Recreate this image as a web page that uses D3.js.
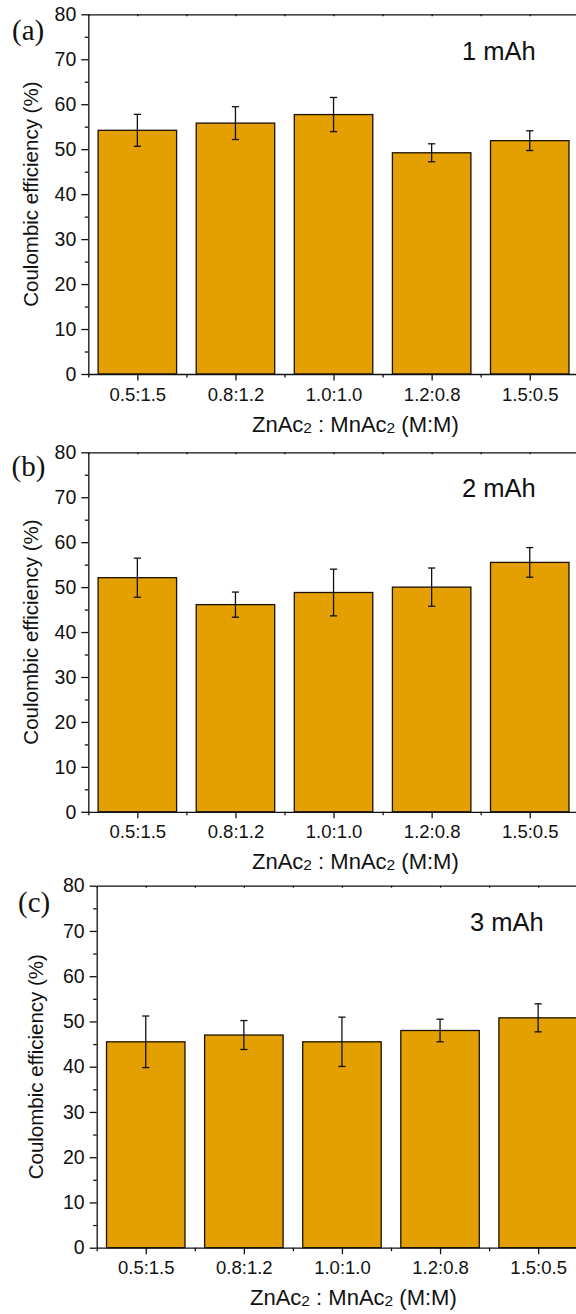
<!DOCTYPE html>
<html>
<head>
<meta charset="utf-8">
<script src="https://cdn.jsdelivr.net/npm/d3@7/dist/d3.min.js"></script>
<style>
  html, body { margin: 0; padding: 0; background: #fff; }
  svg { display: block; }
</style>
</head>
<body>
<svg id="chart" width="576" height="1314"></svg>
<script>
// Zn:Mn acetate ratios tested
const categories = ["0.5:1.5", "0.8:1.2", "1.0:1.0", "1.2:0.8", "1.5:0.5"];

// Coulombic efficiency (%) and error (±) per capacity
const ce1mAh  = [54.2, 55.8, 57.7, 49.2, 51.9];
const err1mAh = [3.55, 3.65, 3.8, 2.0, 2.2];
const ce2mAh  = [52.1, 46.1, 48.8, 50.0, 55.5];
const err2mAh = [4.35, 2.8, 5.2, 4.25, 3.3];
const ce3mAh  = [45.5, 47.0, 45.5, 48.0, 50.8];
const err3mAh = [5.7, 3.2, 5.45, 2.5, 3.1];

const capacityLabels = ["1 mAh", "2 mAh", "3 mAh"];
const panelTags = ["(a)", "(b)", "(c)"];
const yMajorTicks = [0, 10, 20, 30, 40, 50, 60, 70, 80];
const yMinorTicks = [5, 15, 25, 35, 45, 55, 65, 75];

const series = [
  { values: ce1mAh, errors: err1mAh },
  { values: ce2mAh, errors: err2mAh },
  { values: ce3mAh, errors: err3mAh }
];

// Panel frames (plot-area geometry)
const frames = [
  { left: 88.3, top: 14.3, bottom: 374.0, tagX: 12, tagY: 30, capX: 462, capY: 59.5, titleX: 38, xTitleX: 252 },
  { left: 88.3, top: 452.3, bottom: 811.8, tagX: 11.5, tagY: 466, capX: 462, capY: 497, titleX: 38, xTitleX: 252 },
  { left: 96.7, top: 885.7, bottom: 1247.7, tagX: 18, tagY: 902, capX: 470, capY: 931, titleX: 43, xTitleX: 250 }
];
const plotWidth = 490.5;
const barFill = "#e4a000";
const sans = "'Liberation Sans', Arial, sans-serif";

const svg = d3.select("#chart");

frames.forEach((f, i) => {
  const data = series[i];
  const g = svg.append("g");

  const x = d3.scaleLinear().domain([0.5, 5.5]).range([f.left, f.left + plotWidth]);
  const y = d3.scaleLinear().domain([0, 80]).range([f.bottom, f.top]);

  // bars
  g.selectAll("rect.bar")
    .data(data.values)
    .join("rect")
    .attr("class", "bar")
    .attr("x", (d, k) => x(k + 1 - 0.4))
    .attr("width", x(1.8) - x(1))
    .attr("y", d => y(d))
    .attr("height", d => y(0) - y(d))
    .attr("fill", barFill)
    .attr("stroke", "#1a1100")
    .attr("stroke-width", 1.3);

  // error bars
  const eb = g.selectAll("g.err")
    .data(data.values.map((v, k) => ({ v, e: data.errors[k], k })))
    .join("g")
    .attr("class", "err")
    .attr("stroke", "#111")
    .attr("stroke-width", 1.3);
  eb.append("line")
    .attr("x1", d => x(d.k + 1)).attr("x2", d => x(d.k + 1))
    .attr("y1", d => y(d.v + d.e)).attr("y2", d => y(d.v - d.e));
  eb.append("line")
    .attr("x1", d => x(d.k + 1) - 3.6).attr("x2", d => x(d.k + 1) + 3.6)
    .attr("y1", d => y(d.v + d.e)).attr("y2", d => y(d.v + d.e));
  eb.append("line")
    .attr("x1", d => x(d.k + 1) - 3.6).attr("x2", d => x(d.k + 1) + 3.6)
    .attr("y1", d => y(d.v - d.e)).attr("y2", d => y(d.v - d.e));

  // left axis: major + minor ticks
  const yAxis = g.append("g")
    .attr("transform", `translate(${f.left},0)`)
    .call(d3.axisLeft(y).tickValues(yMajorTicks).tickSize(7).tickSizeOuter(0).tickPadding(5));
  yAxis.selectAll("text").attr("font-size", 19.5).attr("fill", "#111").attr("font-family", sans);
  g.append("g")
    .attr("transform", `translate(${f.left},0)`)
    .call(d3.axisLeft(y).tickValues(yMinorTicks).tickSize(3.5).tickFormat(""))
    .call(s => s.select(".domain").remove());

  // bottom axis: labelled ticks at bar centres, short ticks between
  const xAxis = g.append("g")
    .attr("transform", `translate(0,${f.bottom})`)
    .call(d3.axisBottom(x).tickValues([1, 2, 3, 4, 5]).tickSize(6.5).tickSizeOuter(0)
      .tickPadding(7).tickFormat((d) => categories[d - 1]));
  xAxis.selectAll("text").attr("font-size", 18.5).attr("fill", "#111").attr("font-family", sans);
  g.append("g")
    .attr("transform", `translate(0,${f.bottom})`)
    .call(d3.axisBottom(x).tickValues([0.5, 1.5, 2.5, 3.5, 4.5, 5.5]).tickSize(3.5).tickFormat(""))
    .call(s => s.select(".domain").remove());

  // top frame line with small inward ticks
  g.append("g")
    .attr("transform", `translate(0,${f.top})`)
    .call(d3.axisBottom(x).tickValues(d3.range(0.5, 5.51, 0.5)).tickSize(2).tickSizeOuter(0).tickFormat(""));

  g.selectAll(".domain, .tick line").attr("stroke", "#111").attr("stroke-width", 1.3);

  // y title
  g.append("text")
    .attr("transform", `translate(${f.titleX},${(f.top + f.bottom) / 2}) rotate(-90)`)
    .attr("text-anchor", "middle")
    .attr("font-family", sans)
    .attr("font-size", 20.5)
    .attr("fill", "#111")
    .text("Coulombic efficiency (%)");

  // x title with subscripts
  const xt = g.append("text")
    .attr("x", f.xTitleX)
    .attr("y", f.bottom + 57.5)
    .attr("font-family", sans)
    .attr("font-size", 22)
    .attr("fill", "#111");
  xt.append("tspan").text("ZnAc");
  xt.append("tspan").attr("font-size", 15.5).attr("dy", 1).text("2");
  xt.append("tspan").attr("dy", -1).text(" : MnAc");
  xt.append("tspan").attr("font-size", 15.5).attr("dy", 1).text("2");
  xt.append("tspan").attr("dy", -1).text(" (M:M)");

  // capacity label
  g.append("text")
    .attr("x", f.capX)
    .attr("y", f.capY)
    .attr("font-family", sans)
    .attr("font-size", 25.5)
    .attr("fill", "#111")
    .text(capacityLabels[i]);

  // panel tag
  g.append("text")
    .attr("x", f.tagX)
    .attr("y", f.tagY)
    .attr("dominant-baseline", "central")
    .attr("font-family", "'Liberation Serif', 'Times New Roman', serif")
    .attr("font-size", 29)
    .attr("fill", "#111")
    .text(panelTags[i]);
});
</script>
</body>
</html>
